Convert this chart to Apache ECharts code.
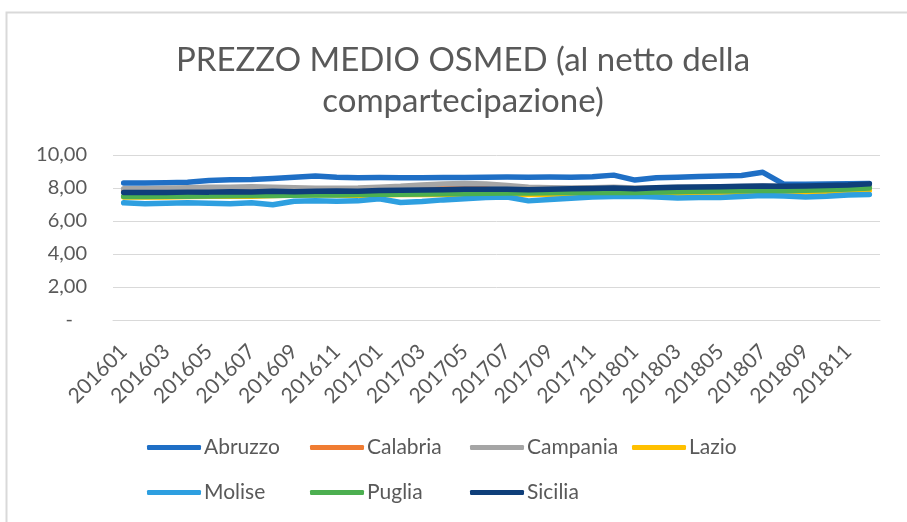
<!DOCTYPE html>
<html>
<head>
<meta charset="utf-8">
<script src="https://cdn.jsdelivr.net/npm/echarts@6/dist/echarts.min.js"></script>
<style>
  html, body { margin: 0; padding: 0; background: #fff; }
  #chart { width: 907px; height: 522px; }
</style>
</head>
<body>
<div id="chart"></div>
<script>
// mesi 201601 .. 201812
var months = [];
for (var y = 2016; y <= 2018; y++) {
  for (var m = 1; m <= 12; m++) {
    months.push(String(y) + (m < 10 ? "0" + m : m));
  }
}

var yTicks = [0, 2, 4, 6, 8, 10];

var abruzzo = [8.30, 8.30, 8.32, 8.35, 8.45, 8.50, 8.52, 8.58, 8.65, 8.72, 8.65, 8.62,
               8.63, 8.62, 8.62, 8.63, 8.63, 8.65, 8.66, 8.65, 8.66, 8.65, 8.68, 8.78,
               8.48, 8.62, 8.65, 8.70, 8.72, 8.76, 8.95, 8.22, 8.22, 8.24, 8.26, 8.28];
var calabria = [7.88, 7.88, 7.90, 7.92, 7.90, 7.92, 7.95, 7.93, 7.90, 7.88, 7.90, 7.92,
                7.92, 7.95, 7.95, 7.96, 7.98, 7.97, 7.95, 7.94, 7.95, 7.96, 7.98, 8.00,
                7.96, 7.98, 8.00, 8.02, 8.03, 8.04, 8.05, 8.04, 8.05, 8.06, 8.08, 8.10];
var campania = [7.95, 7.95, 7.98, 8.02, 8.05, 8.05, 8.08, 8.05, 8.02, 7.98, 7.98, 8.00,
                8.05, 8.10, 8.18, 8.25, 8.28, 8.25, 8.15, 8.05, 8.02, 8.00, 8.02, 8.05,
                8.00, 8.02, 8.04, 8.05, 8.06, 8.08, 8.10, 8.08, 8.08, 8.10, 8.12, 8.15];
var lazio = [7.45, 7.45, 7.46, 7.48, 7.50, 7.52, 7.50, 7.55, 7.58, 7.60, 7.58, 7.55,
             7.58, 7.60, 7.62, 7.60, 7.58, 7.60, 7.62, 7.60, 7.62, 7.64, 7.65, 7.66,
             7.64, 7.66, 7.68, 7.70, 7.72, 7.74, 7.76, 7.75, 7.76, 7.78, 7.80, 7.85];
var molise = [7.10, 7.05, 7.08, 7.10, 7.08, 7.05, 7.10, 6.98, 7.20, 7.22, 7.20, 7.22,
              7.35, 7.12, 7.18, 7.28, 7.35, 7.42, 7.45, 7.22, 7.30, 7.38, 7.45, 7.48,
              7.50, 7.45, 7.40, 7.42, 7.42, 7.48, 7.55, 7.52, 7.45, 7.50, 7.58, 7.60];
var puglia = [7.48, 7.48, 7.50, 7.50, 7.52, 7.53, 7.55, 7.55, 7.56, 7.58, 7.58, 7.60,
              7.62, 7.62, 7.64, 7.65, 7.66, 7.68, 7.70, 7.70, 7.71, 7.72, 7.72, 7.74,
              7.72, 7.75, 7.78, 7.80, 7.82, 7.84, 7.86, 7.85, 7.87, 7.90, 7.94, 8.00];
var sicilia = [7.72, 7.72, 7.73, 7.75, 7.75, 7.78, 7.76, 7.80, 7.78, 7.80, 7.82, 7.80,
               7.85, 7.86, 7.88, 7.90, 7.92, 7.93, 7.92, 7.90, 7.93, 7.95, 7.97, 8.00,
               7.96, 8.02, 8.05, 8.06, 8.08, 8.10, 8.12, 8.10, 8.12, 8.15, 8.18, 8.25];

var names = ["Abruzzo", "Calabria", "Campania", "Lazio", "Molise", "Puglia", "Sicilia"];
var values = [abruzzo, calabria, campania, lazio, molise, puglia, sicilia];
var colors = ["#1f6fc5", "#f07c32", "#a5a5a5", "#ffc000", "#2e9fe0", "#4caf50", "#0f3f7a"];

// posizione legenda (colonne/righe come nell'originale)
var legendLeft = [147, 310, 470, 632, 147, 310, 470];
var legendTop = [437, 437, 437, 437, 482, 482, 482];

var txt = "#595959";
var font = "Lato";

var myChart = echarts.init(document.getElementById("chart"));

var legends = names.map(function (n, i) {
  return {
    data: [n],
    left: legendLeft[i],
    top: legendTop[i],
    icon: "roundRect",
    itemWidth: 54,
    itemHeight: 5,
    padding: 0,
    textStyle: { fontSize: 21, color: txt, fontFamily: font, padding: [0, 0, 0, -2] }
  };
});

var option = {
  animation: false,
  color: colors,
  graphic: [{
    type: "rect",
    left: 4, top: 10,
    shape: { width: 940, height: 540 },
    style: { fill: "none", stroke: "#d9d9d9", lineWidth: 2 },
    silent: true
  }],
  title: {
    text: "PREZZO MEDIO OSMED (al netto della\ncompartecipazione)",
    left: 458,
    textAlign: "center",
    top: 35,
    textStyle: { fontSize: 33, fontWeight: "normal", color: txt, fontFamily: font, lineHeight: 41 }
  },
  legend: legends,
  grid: { left: 113, right: 27, top: 155, bottom: 202 },
  xAxis: {
    type: "category",
    data: months,
    boundaryGap: true,
    axisTick: { show: false },
    axisLine: { show: true, lineStyle: { color: "#d9d9d9", width: 1 } },
    axisLabel: {
      interval: 1,
      rotate: 45,
      margin: 28,
      fontSize: 21,
      color: txt,
      fontFamily: font
    }
  },
  yAxis: {
    type: "value",
    min: 0,
    max: 10,
    interval: 2,
    axisLine: { show: false },
    axisTick: { show: false },
    splitLine: { lineStyle: { color: "#d9d9d9", width: 1 } },
    axisLabel: {
      margin: 26,
      fontSize: 20,
      color: txt,
      fontFamily: font,
      formatter: function (v) {
        if (yTicks.indexOf(v) < 0) return "";
        if (v === 0) return "{d|-}";
        return v.toFixed(2).replace(".", ",");
      },
      rich: { d: { fontSize: 20, color: txt, fontFamily: font, padding: [0, 14, 0, 0] } }
    }
  },
  series: names.map(function (n, i) {
    return {
      name: n,
      type: "line",
      data: values[i],
      symbol: "none",
      lineStyle: { width: 5.5, color: colors[i], cap: "round", join: "round" },
      itemStyle: { color: colors[i] }
    };
  })
};

myChart.setOption(option);
</script>
</body>
</html>
